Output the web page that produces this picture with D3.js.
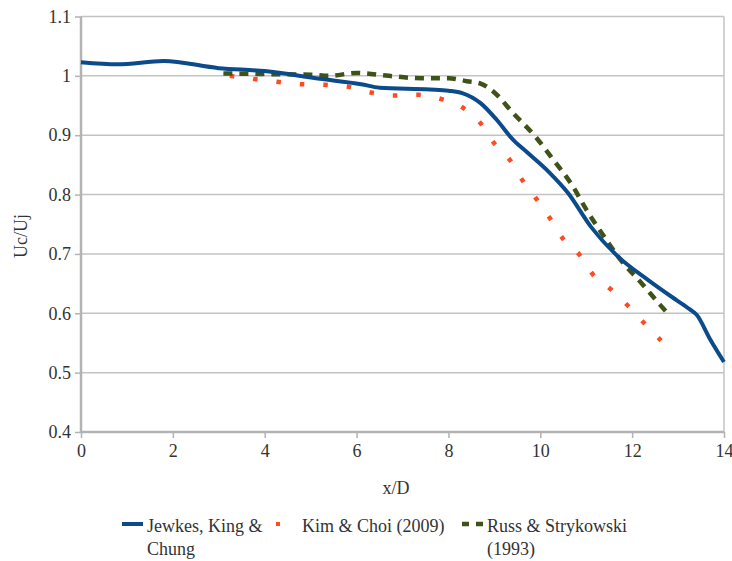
<!DOCTYPE html>
<html>
<head>
<meta charset="utf-8">
<script src="https://cdn.jsdelivr.net/npm/d3@7"></script>
<style>
  html, body { margin: 0; padding: 0; background: #fff; }
  svg { display: block; }
  text { font-family: "Liberation Serif", "Times New Roman", serif; fill: #333; }
</style>
</head>
<body>
<svg id="chart" width="732" height="561"></svg>
<script>
// ---- data ----
const xTicks = [0, 2, 4, 6, 8, 10, 12, 14];
const yTicks = [0.4, 0.5, 0.6, 0.7, 0.8, 0.9, 1.0, 1.1];

const jewkesX = [0, 0.8, 1.8, 3.0, 4.0, 5.2, 6.1, 6.5, 7.6, 8.0, 8.3, 8.7, 9.05, 9.4, 9.7, 10.2, 10.6, 11.1, 11.7, 12.35, 12.95, 13.25, 13.4, 13.7, 14.0];
const jewkesY = [1.023, 1.0195, 1.025, 1.013, 1.008, 0.995, 0.986, 0.980, 0.977, 0.975, 0.971, 0.954, 0.926, 0.893, 0.872, 0.837, 0.803, 0.746, 0.695, 0.656, 0.623, 0.607, 0.598, 0.556, 0.518];

const kimX = [3.24, 3.74, 4.27, 4.77, 5.29, 5.79, 6.31, 6.81, 7.34, 7.84, 8.32, 8.69, 8.99, 9.34, 9.62, 9.93, 10.22, 10.5, 10.86, 11.15, 11.54, 11.93, 12.28, 12.63];
const kimY = [1.0, 0.995, 0.99, 0.986, 0.985, 0.982, 0.972, 0.967, 0.968, 0.961, 0.946, 0.921, 0.887, 0.858, 0.823, 0.791, 0.759, 0.725, 0.698, 0.665, 0.640, 0.611, 0.582, 0.554];

const russX = [3.1, 4.0, 5.0, 5.4, 6.0, 6.7, 7.4, 8.0, 8.4, 8.7, 9.0, 9.4, 9.9, 10.3, 10.7, 11.0, 11.4, 11.75, 12.2, 12.6, 12.82];
const russY = [1.004, 1.003, 1.002, 1.0, 1.005, 1.0, 0.996, 0.996, 0.991, 0.987, 0.972, 0.938, 0.897, 0.857, 0.815, 0.775, 0.728, 0.69, 0.651, 0.615, 0.596];

const seriesNames = ["Jewkes, King &|Chung", "Kim & Choi (2009)", "Russ & Strykowski|(1993)"];
const colors = ["#0b4a8b", "#ff4a22", "#3f5218"];

// ---- layout ----
const svg = d3.select("#chart");
const pLeft = 81, pRight = 724, pTop = 16.5, pBottom = 432;
const x = d3.scaleLinear().domain([0, 14]).range([pLeft, pRight]);
const y = d3.scaleLinear().domain([0.4, 1.1]).range([pBottom, pTop]);

// gridlines
svg.append("g").selectAll("line").data(yTicks.filter(d => d > 0.4)).join("line")
  .attr("x1", pLeft).attr("x2", pRight)
  .attr("y1", d => y(d)).attr("y2", d => y(d))
  .attr("stroke", "#c3c3c3").attr("stroke-width", 1.5);

// right border
svg.append("line").attr("x1", pRight).attr("x2", pRight).attr("y1", pTop).attr("y2", pBottom)
  .attr("stroke", "#c3c3c3").attr("stroke-width", 1.5);

// axes
const fmt = d => String(+d.toFixed(1));
const yAxis = svg.append("g").attr("transform", `translate(${pLeft},0)`)
  .call(d3.axisLeft(y).tickValues(yTicks).tickFormat(fmt).tickSize(6).tickPadding(4));
const xAxis = svg.append("g").attr("transform", `translate(0,${pBottom})`)
  .call(d3.axisBottom(x).tickValues(xTicks).tickFormat(d3.format("d")).tickSize(6).tickPadding(6));
[yAxis, xAxis].forEach(g => {
  g.attr("font-family", '"Liberation Serif", serif').attr("font-size", 18);
  g.select(".domain").attr("stroke", "#b3b3b3").attr("stroke-width", 2.5);
  g.selectAll(".tick line").attr("stroke", "#b3b3b3").attr("stroke-width", 1.5);
  g.selectAll(".tick text").attr("fill", "#333").style("font-size", "18px")
    .style("font-family", '"Liberation Serif", serif');
});
yAxis.select(".domain").attr("d", `M0,${pTop}V${pBottom}`);
xAxis.select(".domain").attr("d", `M${pLeft},0H${pRight}`);

// axis titles
svg.append("text").attr("x", 396).attr("y", 494).attr("text-anchor", "middle")
  .style("font-size", "18px").text("x/D");
svg.append("text").attr("transform", "translate(27,236) rotate(-90)").attr("text-anchor", "middle")
  .style("font-size", "18px").text("Uc/Uj");

// lines
const mk = (xs, ys) => xs.map((v, i) => [v, ys[i]]);
const line = d3.line().x(d => x(d[0])).y(d => y(d[1])).curve(d3.curveMonotoneX);

svg.append("path").datum(mk(kimX, kimY)).attr("d", line)
  .attr("fill", "none").attr("stroke", colors[1]).attr("stroke-width", 4.5)
  .attr("stroke-dasharray", "4.5 19");
svg.append("path").datum(mk(russX, russY)).attr("d", line)
  .attr("fill", "none").attr("stroke", colors[2]).attr("stroke-width", 4.5)
  .attr("stroke-dasharray", "9 7");
svg.append("path").datum(mk(jewkesX, jewkesY)).attr("d", line)
  .attr("fill", "none").attr("stroke", colors[0]).attr("stroke-width", 4)
  .attr("stroke-linejoin", "round");

// legend
const lg = svg.append("g");
const ly = 524;
lg.append("line").attr("x1", 122).attr("x2", 143).attr("y1", ly).attr("y2", ly)
  .attr("stroke", colors[0]).attr("stroke-width", 4);
lg.append("rect").attr("x", 276).attr("y", ly - 2).attr("width", 4).attr("height", 4).attr("fill", colors[1]);
lg.append("line").attr("x1", 462).attr("x2", 483).attr("y1", ly).attr("y2", ly)
  .attr("stroke", colors[2]).attr("stroke-width", 4.5).attr("stroke-dasharray", "7 7");
const lx = [147, 302, 487];
seriesNames.forEach((n, i) => {
  const t = lg.append("text").attr("x", lx[i]).attr("y", 532).style("font-size", "18px");
  n.split("|").forEach((s, j) => {
    t.append("tspan").attr("x", lx[i]).attr("dy", j === 0 ? 0 : 23).text(s);
  });
});
</script>
</body>
</html>
